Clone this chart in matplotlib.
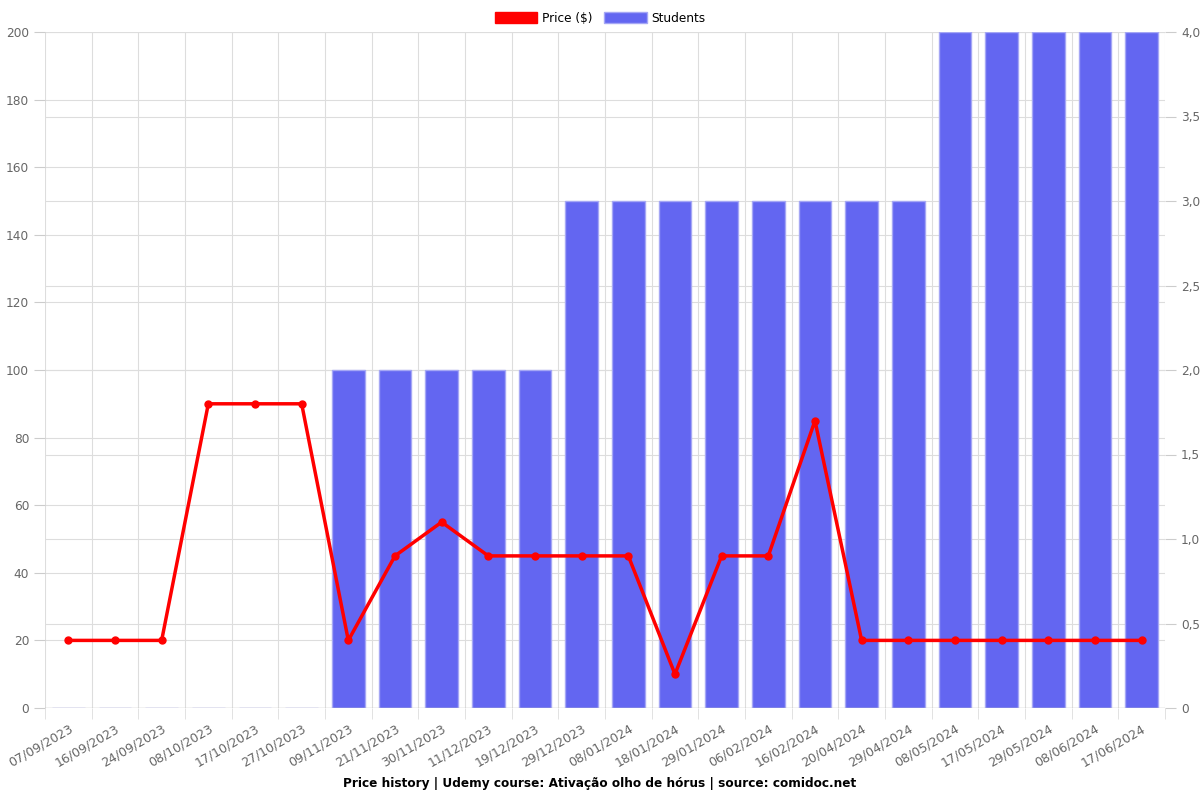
import numpy as np
import matplotlib
matplotlib.use("Agg")
import matplotlib.pyplot as plt
from matplotlib.patches import Patch
from matplotlib.ticker import FuncFormatter, MultipleLocator, FixedLocator

dates = ["07/09/2023", "16/09/2023", "24/09/2023", "08/10/2023", "17/10/2023",
         "27/10/2023", "09/11/2023", "21/11/2023", "30/11/2023", "11/12/2023",
         "19/12/2023", "29/12/2023", "08/01/2024", "18/01/2024", "29/01/2024",
         "06/02/2024", "16/02/2024", "20/04/2024", "29/04/2024", "08/05/2024",
         "17/05/2024", "29/05/2024", "08/06/2024", "17/06/2024"]
price = [20, 20, 20, 90, 90, 90, 20, 45, 55, 45, 45, 45, 45, 10, 45, 45, 85,
         20, 20, 20, 20, 20, 20, 20]
students = [0, 0, 0, 0, 0, 0, 2, 2, 2, 2, 2, 3, 3, 3, 3, 3, 3, 3, 3, 4, 4, 4, 4, 4]

bar_color = "#6366f1"
line_color = "#ff0000"
grid_color = "#dddddd"
text_color = "#666666"
fs = 8.7

fig = plt.figure(figsize=(12, 8), dpi=100)
ax = fig.add_axes([0.0375, 0.115, 0.9333, 0.845])
ax2 = ax.twinx()

x = np.arange(len(dates))
bounds = np.arange(-0.5, len(dates), 1.0)

# bars on the right axis, drawn below the price line
ax2.bar(x, students, width=0.7, color=bar_color, edgecolor="#a5a7f5", linewidth=1, zorder=2)
ax2.set_ylim(0, 4)
ax2.yaxis.set_major_locator(MultipleLocator(0.5))
ax2.yaxis.set_major_formatter(FuncFormatter(lambda v, p: "0" if v == 0 else f"{v:.1f}".replace(".", ",")))

ax.set_zorder(ax2.get_zorder() + 1)
ax.patch.set_visible(False)
ax.plot(x, price, color=line_color, linewidth=2.5, marker="o", markersize=5, zorder=5)
ax.set_ylim(0, 200)
ax.yaxis.set_major_locator(MultipleLocator(20))
ax.set_xlim(-0.5, len(dates) - 0.5)
ax.set_xticks(x)
ax.set_xticklabels(dates, rotation=30, ha="right", rotation_mode="anchor")
ax.xaxis.set_minor_locator(FixedLocator(bounds))

# grid lines
for b in bounds:
    ax2.axvline(b, color=grid_color, linewidth=0.8, zorder=0)
for v in np.arange(20, 201, 20):
    ax2.axhline(v / 50, color=grid_color, linewidth=0.8, zorder=0)
for v in np.arange(0.5, 4.01, 0.5):
    ax2.axhline(v, color=grid_color, linewidth=0.8, zorder=0)

for a in (ax, ax2):
    for s in a.spines.values():
        s.set_visible(False)
    a.tick_params(colors=text_color, labelsize=fs, length=8)
    a.tick_params(axis="both", color="#cccccc")
ax.tick_params(axis="x", which="major", length=0, pad=10, labelsize=9)
ax.tick_params(axis="x", which="minor", length=8, color=grid_color)
ax.axhline(0, color="#bbbbbb", linewidth=1, zorder=1)

handles = [Patch(facecolor=line_color, edgecolor=line_color),
           Patch(facecolor=bar_color, edgecolor="#a5a7f5")]
fig.legend(handles, ["Price ($)", "Students"], loc="upper center", ncol=2,
           bbox_to_anchor=(0.5, 0.999), frameon=False, fontsize=fs,
           handlelength=3.5, handleheight=1.1, columnspacing=1, handletextpad=0.4)

fig.text(0.5, 0.016, "Price history | Udemy course: Ativação olho de hórus | source: comidoc.net",
         ha="center", fontsize=fs, fontweight="bold")

fig.savefig("out.png", dpi=100)
